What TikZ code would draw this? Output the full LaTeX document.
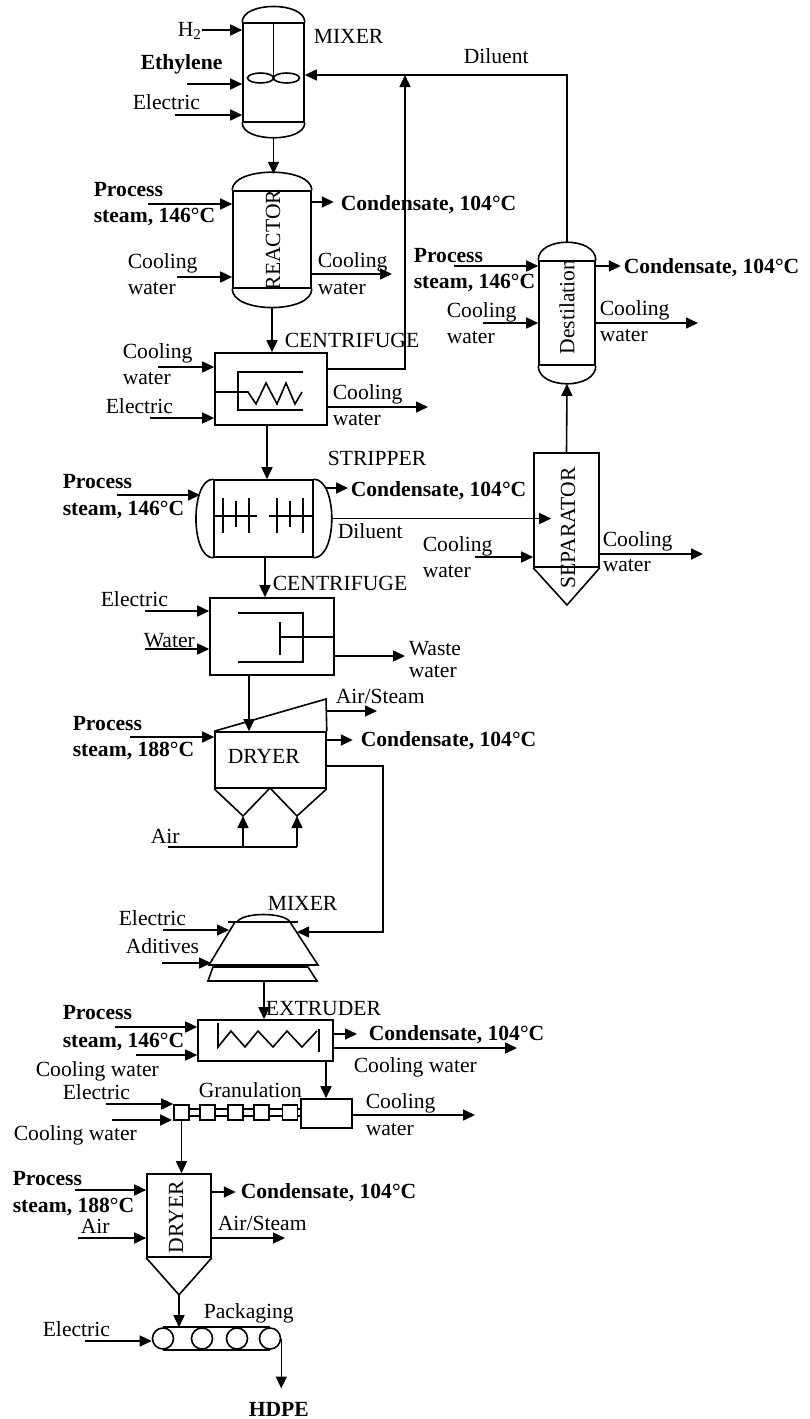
\documentclass[tikz,border=0pt]{standalone}
\usepackage{fontspec}
\setmainfont{Liberation Serif}
\usepackage{tikz}
\usetikzlibrary{arrows.meta}
\newcommand{\fsz}{\fontsize{21.6}{26}\selectfont}
\tikzset{
	unit/.style={draw, rectangle, inner sep=0pt},
	lbl/.style={anchor=base west, inner sep=0pt},
	blbl/.style={lbl, font=\fsz\bfseries},
	vlbl/.style={rotate=90, inner sep=0pt},
	roll/.style={draw, circle, minimum size=21pt, inner sep=0pt}
}
\begin{document}
\begin{tikzpicture}[x=1pt, y=-1pt, >={Triangle[length=12pt,width=11pt]}, line width=1.6pt, every node/.style={font=\fsz}]
	\useasboundingbox (0,0) rectangle (810,1419);

	% mixer
	\node[unit, minimum width=61pt, minimum height=99pt] (mix1) at (273.5,72.5) {};
	\draw (mix1.north west) .. controls +(0,-21) and +(0,-21) .. (mix1.north east);
	\draw (mix1.south west) .. controls +(0,20) and +(0,20) .. (mix1.south east);
	\draw (mix1.north) -- ++(0,55);
	\draw (260.5,78) ellipse [x radius=13, y radius=5];
	\draw (286.5,78) ellipse [x radius=13, y radius=5];
	\node[lbl]  (h2)     at (177,36)  {H\textsubscript{2}};
	\node[lbl]  (mixlb)  at (313,43)  {MIXER};
	\node[blbl] (eth)    at (140,69)  {Ethylene};
	\node[lbl]  (el1)    at (132,109) {Electric};
	\coordinate (h2in)  at (202,30);
	\coordinate (ethin) at (187,84);
	\coordinate (el1in) at (175,115);
	\draw[->] (h2in) -- (h2in -| mix1.west);
	\draw[->] (ethin) -- (ethin -| mix1.west);
	\draw[->] (el1in) -- (el1in -| mix1.west);

	% reactor
	\node[unit, minimum width=78pt, minimum height=97pt] (rct) at (272,239.5) {};
	\draw (rct.north west) .. controls +(0,-24) and +(0,-24) .. (rct.north east);
	\draw (rct.south west) .. controls +(0,25) and +(0,25) .. (rct.south east);
	\node[vlbl] (rctlb) at (273,240) {REACTOR};
	\node[blbl] (ps1a) at (93,196)  {Process};
	\node[blbl] (ps1b) at (93,222)  {steam, 146°C};
	\node[blbl] (cd1)  at (340,210) {Condensate, 104°C};
	\node[lbl]  (cw1a) at (127,268) {Cooling};
	\node[lbl]  (cw1b) at (127,294) {water};
	\node[lbl]  (cw2a) at (317,267) {Cooling};
	\node[lbl]  (cw2b) at (317,294) {water};
	\coordinate (ps1) at (148,204);
	\coordinate (cw1) at (177,277);
	\coordinate (cw2) at (392,274);
	\draw[->] (ps1) -- (ps1 -| rct.west);
	\draw[->] (rct.east |- 0,202) -- ++(22,0);
	\draw[->] (cw1) -- (cw1 -| rct.west);
	\draw[->] (cw2 -| rct.east) -- (cw2);

	% centrifuge
	\node[unit, minimum width=112pt, minimum height=72pt] (cf1) at (271,389) {};
	\draw (303,372) -- (238,372) -- (238,410) -- (303,410);
	\draw (cf1.west |- 0,392) -- (248,392) -- (256,404) -- (266,383) -- (277,404) -- (286,383) -- (295,404) -- (302,392);
	\node[lbl] (cf1lb) at (284,347) {CENTRIFUGE};
	\node[lbl] (cw3a)  at (122,358) {Cooling};
	\node[lbl] (cw3b)  at (122,384) {water};
	\node[lbl] (el2)   at (105,413) {Electric};
	\node[lbl] (cw4a)  at (332,399) {Cooling};
	\node[lbl] (cw4b)  at (332,425) {water};
	\coordinate (cw3)  at (158,367);
	\coordinate (el2in) at (150,418);
	\coordinate (cw4)  at (428,407);
	\coordinate (ret)  at (405,75);
	\coordinate (cf1o) at (267,425);
	\draw[->] (cw3) -- (cw3 -| cf1.west);
	\draw[->] (el2in) -- (el2in -| cf1.west);
	\draw[->] (cw4 -| cf1.east) -- (cw4);

	% destilation
	\node[unit, minimum width=56pt, minimum height=104pt] (dst) at (567,313) {};
	\draw (dst.north west) .. controls +(0,-24) and +(0,-24) .. (dst.north east);
	\draw (dst.south west) .. controls +(0,24) and +(0,24) .. (dst.south east);
	\node[vlbl] (dstlb) at (567,307) {Destilation};
	\node[lbl]  (dil1) at (463,63)  {Diluent};
	\node[blbl] (ps2a) at (413,262) {Process};
	\node[blbl] (ps2b) at (413,288) {steam, 146°C};
	\node[blbl] (cd2)  at (623,273) {Condensate, 104°C};
	\node[lbl]  (cw5a) at (446,317) {Cooling};
	\node[lbl]  (cw5b) at (446,343) {water};
	\node[lbl]  (cw6a) at (599,315) {Cooling};
	\node[lbl]  (cw6b) at (599,341) {water};
	\coordinate (ps2) at (454,266);
	\coordinate (cw5) at (483,323);
	\coordinate (cw6) at (698,323);
	\draw[->] (ps2) -- (ps2 -| dst.west);
	\draw[->] (dst.east |- 0,266) -- ++(25,0);
	\draw[->] (cw5) -- (cw5 -| dst.west);
	\draw[->] (cw6 -| dst.east) -- (cw6);

	% stripper
	\node[unit, minimum width=99pt, minimum height=77pt] (str) at (263.5,518.5) {};
	\draw (str.north west) .. controls +(-23,0) and +(-23,0) .. (str.south west);
	\draw (str.north east) .. controls +(24,0) and +(24,0) .. (str.south east);
	\draw (215,516) -- (257,516);
	\draw (223,498) -- (223,533);
	\draw (236,501) -- (236,527);
	\draw (249,498) -- (249,533);
	\draw (269,516) -- (312,516);
	\draw (277,498) -- (277,533);
	\draw (290,501) -- (290,527);
	\draw (303,498) -- (303,533);
	\node[lbl]  (strlb) at (327,465) {STRIPPER};
	\node[blbl] (ps3a)  at (62,488)  {Process};
	\node[blbl] (ps3b)  at (62,515)  {steam, 146°C};
	\node[blbl] (cd3)   at (350,496) {Condensate, 104°C};
	\node[lbl]  (dil2)  at (337,538) {Diluent};
	\coordinate (ps3) at (117,495);
	\coordinate (stro) at (265,557);
	\draw[->] (ps3) -- ++(83,0);
	\draw[->] (325,488) -- ++(23,0);

	% separator
	\node[unit, minimum width=65pt, minimum height=114pt] (sep) at (566.5,510) {};
	\draw (sep.south west) -- (567,605) -- (sep.south east);
	\node[vlbl] (seplb) at (568,528) {SEPARATOR};
	\node[lbl] (cw7a) at (422,551) {Cooling};
	\node[lbl] (cw7b) at (422,577) {water};
	\node[lbl] (cw8a) at (602,546) {Cooling};
	\node[lbl] (cw8b) at (602,571) {water};
	\coordinate (cw7) at (475,557);
	\coordinate (cw8) at (703,554);
	\draw[->] (cw7) -- (cw7 -| sep.west);
	\draw[->] (cw8 -| sep.east) -- (cw8);

	% centrifuge
	\node[unit, minimum width=124pt, minimum height=77pt] (cf2) at (272,636.5) {};
	\draw (238,613) -- (303,613) -- (303,662) -- (238,662);
	\draw (280,622) -- (280,655);
	\draw (280,637) -- (cf2.east |- 0,637);
	\node[lbl] (cf2lb) at (272,590) {CENTRIFUGE};
	\node[lbl] (el3)   at (100,606) {Electric};
	\node[lbl] (wat)   at (143,647) {Water};
	\node[lbl] (wwa)   at (408,655) {Waste};
	\node[lbl] (wwb)   at (408,677) {water};
	\coordinate (el3in) at (145,611);
	\coordinate (watin) at (145,649);
	\coordinate (ww)    at (405,656);
	\coordinate (cf2o)  at (249,675);
	\draw[->] (el3in) -- (el3in -| cf2.west);
	\draw[->] (watin) -- (watin -| cf2.west);
	\draw[->] (ww -| cf2.east) -- (ww);

	% dryer
	\node[unit, minimum width=111pt, minimum height=56pt] (dry1) at (270.5,760) {};
	\draw (dry1.north west) -- (326,699) -- (dry1.north east);
	\draw (dry1.south west) -- (243,816) -- (270,788) -- (297,816) -- (dry1.south east);
	\node[lbl]  (dry1lb) at (227,763) {DRYER};
	\node[blbl] (ps4a)   at (72,730)  {Process};
	\node[blbl] (ps4b)   at (72,756)  {steam, 188°C};
	\node[lbl]  (as1)    at (335,703) {Air/Steam};
	\node[blbl] (cd4)    at (360,746) {Condensate, 104°C};
	\node[lbl]  (air1lb) at (150,843) {Air};
	\coordinate (ps4)  at (130,737);
	\coordinate (air1) at (168,847);
	\draw[->] (ps4) -- (ps4 -| dry1.west);
	\draw[->] (dry1.east |- 0,711) -- (377,711);
	\draw[->] (dry1.east |- 0,740) -- ++(26,0);
	\draw (air1) -- (297,847);
	\draw[->] (243,847) -- (243,816);
	\draw[->] (297,847) -- (297,816);

	% mixer
	\draw (235,922) -- (290,922) -- (318,965) -- (209,965) -- cycle;
	\draw (213,967) -- (308,967) -- (317,981) -- (208,981) -- cycle;
	\draw (228,922) -- (298,922);
	\draw (237,922) .. controls (243,912) and (284,912) .. (290,922);
	\node[lbl] (mx2lb) at (267,910) {MIXER};
	\node[lbl] (el4)   at (118,925) {Electric};
	\node[lbl] (adt)   at (125,953) {Aditives};
	\coordinate (mx2in) at (297,932);
	\coordinate (mx2o) at (264,981);
	\draw[->] (163,930) -- (229,930);
	\draw[->] (162,963) -- (211,963);

	% extruder
	\node[unit, minimum width=135pt, minimum height=41pt] (ext) at (265.5,1040.5) {};
	\draw (218,1023) -- (218,1047) -- (231,1031) -- (245,1047) -- (258,1031) -- (273,1047) -- (287,1031) -- (302,1047) -- (317,1031);
	\draw (319,1029) -- (319,1052);
	\node[lbl]  (extlb) at (265,1015) {EXTRUDER};
	\node[blbl] (ps5a)  at (62,1019)  {Process};
	\node[blbl] (ps5b)  at (62,1047)  {steam, 146°C};
	\node[lbl]  (cw9)   at (35,1076)  {Cooling water};
	\node[blbl] (cd5)   at (368,1040) {Condensate, 104°C};
	\node[lbl]  (cw10)  at (353,1072) {Cooling water};
	\coordinate (ps5)   at (115,1027);
	\coordinate (cw9in) at (136,1055);
	\coordinate (cw10o) at (517,1048);
	\coordinate (exto)  at (326,1061);
	\draw[->] (ps5) -- (ps5 -| ext.west);
	\draw[->] (cw9in) -- (cw9in -| ext.west);
	\draw[->] (ext.east |- 0,1034) -- (357,1034);
	\draw[->] (cw10o -| ext.east) -- (cw10o);

	% granulation
	\node[unit, minimum width=51pt, minimum height=29pt] (gbig) at (326.5,1113.5) {};
	\foreach \i/\x in {1/181.5, 2/207.5, 3/235.5, 4/261.5, 5/290}
		\node[unit, minimum size=15pt] (g\i) at (\x,1112.5) {};
	\foreach \a/\b in {g1/g2, g2/g3, g3/g4, g4/g5, g5/gbig} {
		\draw (\a.east |- 0,1109) -- (\b.west |- 0,1109);
		\draw (\a.east |- 0,1116) -- (\b.west |- 0,1116);
	}
	\node[lbl] (granlb) at (198,1097) {Granulation};
	\node[lbl] (el5)    at (62,1099)  {Electric};
	\node[lbl] (cw11)   at (13,1140)  {Cooling water};
	\node[lbl] (cw12a)  at (365,1108) {Cooling};
	\node[lbl] (cw12b)  at (365,1135) {water};
	\coordinate (el5in) at (106,1104);
	\coordinate (cw11in) at (112,1120);
	\coordinate (cw12o) at (475,1115);
	\draw[->] (el5in) -- (el5in -| g1.west);
	\draw[->] (cw11in) -- (172,1120);
	\draw[->] (cw12o -| gbig.east) -- (cw12o);

	% dryer
	\node[unit, minimum width=64pt, minimum height=83pt] (dry2) at (179,1215.5) {};
	\coordinate (dry2o) at ([yshift=-37pt]dry2.south);
	\draw (dry2.south west) -- (dry2o) -- (dry2.south east);
	\node[vlbl] (dry2lb) at (176,1217) {DRYER};
	\node[blbl] (ps6a) at (12,1185)  {Process};
	\node[blbl] (ps6b) at (12,1212)  {steam, 188°C};
	\node[lbl]  (air2lb) at (80,1233) {Air};
	\node[blbl] (cd6)  at (240,1198) {Condensate, 104°C};
	\node[lbl]  (as2)  at (217,1230) {Air/Steam};
	\coordinate (ps6)  at (75,1190);
	\coordinate (air2) at (78,1238);
	\coordinate (as2o) at (285,1238);
	\draw[->] (ps6) -- (ps6 -| dry2.west);
	\draw[->] (air2) -- (air2 -| dry2.west);
	\draw[->] (dry2.east |- 0,1192) -- ++(24,0);
	\draw[->] (as2o -| dry2.east) -- (as2o);

	% packaging
	\foreach \i/\x in {1/163, 2/202, 3/237, 4/270}
		\node[roll] (p\i) at (\x,1338.5) {};
	\draw (p1.north) -- (p4.north);
	\draw (p1.south) -- (p4.south);
	\node[lbl]  (packlb) at (203,1318) {Packaging};
	\node[lbl]  (el6)    at (42,1336)  {Electric};
	\node[blbl] (hdpe)   at (248,1416) {HDPE};
	\coordinate (el6in) at (85,1341);
	\draw[->] (el6in) -- (el6in -| p1.west);
	\draw[->] (p4.east) -- ++(0,50);

	% main flow
	\draw[->] ([yshift=-15pt]mix1.south) -- ++(0,36);
	\draw[->] ([yshift=-19pt]rct.south) -- (rct.south |- cf1.north);
	\draw[->] (cf1.east |- 0,369) -| (ret);
	\draw[->] ([yshift=18pt]dst.north) |- (mix1.east |- ret);
	\draw[->] (cf1o) -- (cf1o |- str.north);
	\draw[->] ([xshift=18pt]str.east) -- ([xshift=18pt]str.east -| sep.west);
	\draw[->] (sep.north) -- ([yshift=-18pt]dst.south);
	\draw[->] (stro) -- (stro |- cf2.north);
	\draw[->] (cf2o) -- (cf2o |- dry1.north);
	\draw[->] (dry1.east |- 0,766) -| (383,932) -- (mx2in);
	\draw[->] (mx2o) -- (mx2o |- ext.north);
	\draw[->] (exto) -- (exto |- gbig.north);
	\draw[->] (g1.south) -- (g1.south |- dry2.north);
	\draw[->] (dry2o) -- (dry2o |- p1.north);
\end{tikzpicture}
\end{document}
